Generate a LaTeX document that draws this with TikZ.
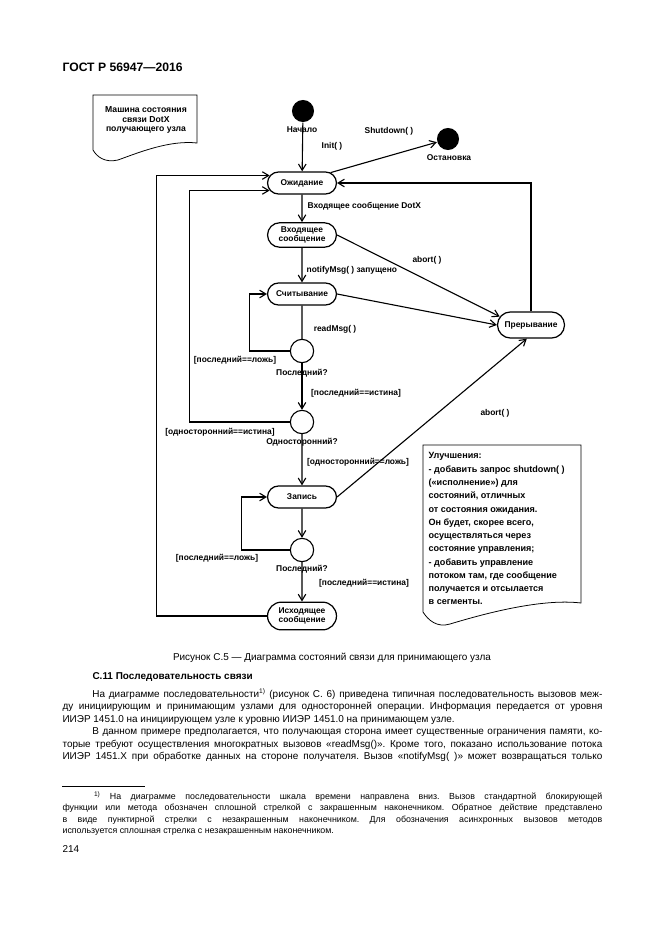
\documentclass[tikz,border=0pt]{standalone}
\usepackage{fontspec}
\setmainfont{Liberation Sans}
\usetikzlibrary{arrows.meta, shapes.misc}
\newcommand{\dfont}{\fontsize{7.6}{8.4}\selectfont\bfseries}
\newcommand{\bodyfont}{\fontsize{9}{11.2}\selectfont}
\newcommand{\fnfont}{\fontsize{8}{10.3}\selectfont}
\frenchspacing

\begin{document}
\begin{tikzpicture}[x=0.3177mm, y=-0.3177mm,
	stnode/.style={rounded rectangle, draw, line width=1.1pt, minimum width=22.6mm, minimum height=7mm, inner sep=1pt, align=center, font=\dfont},
	choice/.style={circle, draw, line width=1pt, minimum size=7.4mm, inner sep=0pt},
	blob/.style={circle, fill=black, minimum size=7mm, inner sep=0pt},
	lbl/.style={font=\dfont, inner sep=1pt},
	every path/.style={line width=1pt},
	>={Straight Barb[length=2mm, width=2.4mm]}]
	\useasboundingbox (0,0) rectangle (661,935);

	% page text
	\node[anchor=base west, font=\fontsize{11}{13}\selectfont\bfseries, inner sep=0pt] (hdr) at (62,72) {ГОСТ Р 56947—2016};

	% notes
	\draw[line width=0.7pt] (93,95) -- (197,95) -- (197,143) .. controls (170,140) and (140,152) .. (118,160) .. controls (105,163) and (97,157) .. (93,150) -- cycle;
	\node[lbl, align=center, font=\fontsize{7.8}{8.8}\selectfont\bfseries] (title) at (146,120) {Машина состояния\\связи DotX\\получающего узла};
	\draw[line width=0.7pt] (423,445) -- (581,445) -- (581,603) .. controls (540,598) and (480,615) .. (450,624) .. controls (437,628) and (428,620) .. (423,612) -- cycle;
	\node[lbl, anchor=north west, align=left, font=\fontsize{8.2}{12}\selectfont\bfseries] (impr) at (427,451) {Улучшения:\\- добавить запрос shutdown( )\\(«исполнение») для\\состояний, отличных\\от состояния ожидания.\\Он будет, скорее всего,\\осуществляться через\\состояние управления;\\- добавить управление\\потоком там, где сообщение\\получается и отсылается\\в сегменты.};

	% states
	\node[blob] (start) at (303,111) {};
	\node[blob] (stop) at (448,139) {};
	\node[stnode] (wait) at (302,183) {Ожидание};
	\node[stnode, minimum height=7.8mm] (inc) at (302,235) {Входящее\\сообщение};
	\node[stnode] (read) at (302,294) {Считывание};
	\node[choice] (lasta) at (302,351) {};
	\node[choice] (oneway) at (302,422) {};
	\node[stnode] (write) at (302,497) {Запись};
	\node[choice] (lastb) at (302,550) {};
	\node[stnode, minimum height=8.8mm] (outmsg) at (302,616) {Исходящее\\сообщение};
	\node[stnode, minimum width=22mm, minimum height=8.3mm] (abrt) at (531,325) {Прерывание};

	% labels
	\node[lbl] (l1) at (302,130) {Начало};
	\node[lbl] (l2) at (332,146) {Init( )};
	\node[lbl] (l3) at (389,131) {Shutdown( )};
	\node[lbl] (l4) at (449,158) {Остановка};
	\node[lbl, anchor=west] (l5) at (306,206) {Входящее сообщение DotX};
	\node[lbl, anchor=west] (l6) at (305,270) {notifyMsg( ) запущено};
	\node[lbl] (l7) at (427,260) {abort( )};
	\node[lbl] (l8) at (335,329) {readMsg( )};
	\node[lbl] (l9) at (235,360) {[последний==ложь]};
	\node[lbl] (l10) at (302,373) {Последний?};
	\node[lbl] (l11) at (356,393) {[последний==истина]};
	\node[lbl] (l12) at (220,432) {[односторонний==истина]};
	\node[lbl] (l13) at (302,442) {Односторонний?};
	\node[lbl] (l14) at (358,462) {[односторонний==ложь]};
	\node[lbl] (l15) at (495,413) {abort( )};
	\node[lbl] (l16) at (217,558) {[последний==ложь]};
	\node[lbl] (l17) at (302,569) {Последний?};
	\node[lbl] (l18) at (364,583) {[последний==истина]};

	% transitions
	\draw[->] (start) to (wait);
	\draw[->] (wait.20) to (stop);
	\draw[->] (wait) to (inc);
	\draw[->] (inc) to (read);
	\draw (read) to (lasta);
	\draw[->] (lasta.west) -- ++(-40,0) |- (read.west);
	\draw[->] (lasta) to (oneway);
	\draw[->] (oneway.west) -- ++(-100,0) |- (wait.193);
	\draw[->] (oneway) to (write);
	\draw[->] (write) to (lastb);
	\draw[->] (lastb.west) -- ++(-48,0) |- (write.west);
	\draw[->] (lastb) to (outmsg);
	\draw[->] (outmsg.west) -- ++(-110,0) |- (wait.167);
	\draw[->] (inc.east) to (abrt.165);
	\draw[->] (read.east) to (abrt.west);
	\draw[->] (write.east) to (abrt.253);
	\draw[->] (abrt.north) |- (wait.east);

	% caption and body
	\node[anchor=base, font=\bodyfont, inner sep=0pt] (cap) at (332,660) {Рисунок С.5 — Диаграмма состояний связи для принимающего узла};
	\node[anchor=base west, font=\fontsize{9}{11}\selectfont\bfseries, inner sep=0pt] (sec) at (92,679) {С.11 Последовательность связи};
	\node[anchor=north west, text width=171.5mm, align=justify, inner sep=0pt, font=\bodyfont] (body) at (62,688) {\hspace*{9.5mm}На диаграмме последовательности\textsuperscript{1)} (рисунок С. 6) приведена типичная последовательность вызовов меж-\linebreak ду инициирующим и принимающим узлами для односторонней операции. Информация передается от уровня\linebreak ИИЭР 1451.0 на инициирующем узле к уровню ИИЭР 1451.0 на принимающем узле.\par
	\parfillskip=0pt \hspace*{9.5mm}В данном примере предполагается, что получающая сторона имеет существенные ограничения памяти, ко-\linebreak торые требуют осуществления многократных вызовов «readMsg()». Кроме того, показано использование потока\linebreak ИИЭР 1451.X при обработке данных на стороне получателя. Вызов «notifyMsg( )» может возвращаться только\par};
	\draw[line width=0.5pt] (62,786) -- (145,786);
	\node[anchor=north west, text width=171.5mm, align=justify, inner sep=0pt, font=\fnfont] (fn) at (62,791) {\hspace*{10mm}\textsuperscript{1)} На диаграмме последовательности шкала времени направлена вниз. Вызов стандартной блокирующей\linebreak функции или метода обозначен сплошной стрелкой с закрашенным наконечником. Обратное действие представлено\linebreak в виде пунктирной стрелки с незакрашенным наконечником. Для обозначения асинхронных вызовов методов\linebreak используется сплошная стрелка с незакрашенным наконечником.};
	\node[anchor=base west, font=\bodyfont, inner sep=0pt] (pg) at (62,852) {214};
\end{tikzpicture}
\end{document}
